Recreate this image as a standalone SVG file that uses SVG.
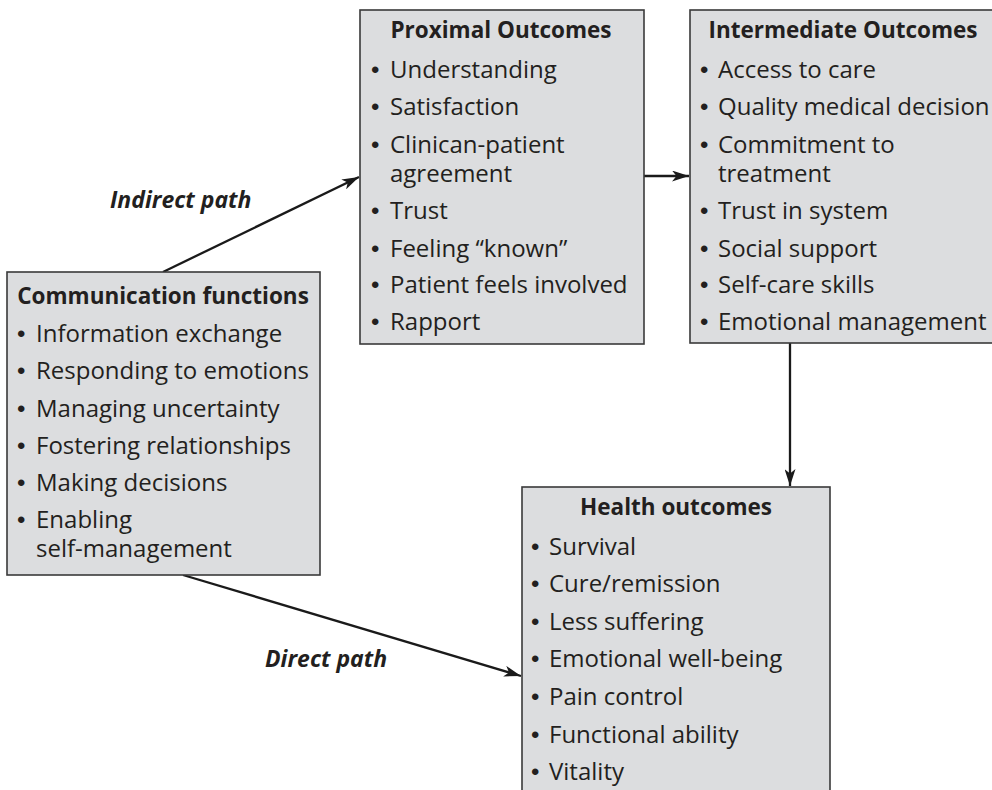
<svg xmlns="http://www.w3.org/2000/svg" width="992" height="790" viewBox="0 0 992 790">
<defs>
<style>
.box{fill:#dcdddf;stroke:#3a3a3a;stroke-width:1.6}
.t{font-family:"Open Sans","Noto Sans","DejaVu Sans",sans-serif;font-size:24px;fill:#231f20}
.h{font-weight:bold;text-anchor:middle;font-size:22.5px}
.b{font-family:"Liberation Sans","Arial",sans-serif;font-size:24px}
.lbl{font-family:"Open Sans","Noto Sans","DejaVu Sans",sans-serif;font-size:23px;font-weight:bold;font-style:italic;fill:#231f20}
.c{stroke:#1a1a1a;stroke-width:2.3;fill:none;marker-end:url(#ah)}
</style>
<marker id="ah" viewBox="0 0 17 11" refX="17" refY="5.5" markerWidth="17" markerHeight="11" markerUnits="userSpaceOnUse" orient="auto">
<path d="M0,0 L17,5.5 L0,11 L4.5,5.5 Z" fill="#1a1a1a"/>
</marker>
</defs>
<rect width="992" height="790" fill="#ffffff"/>
<g id="connectors">
<line class="c" x1="163" y1="272" x2="359" y2="177"/>
<line class="c" x1="183" y1="575" x2="521" y2="676"/>
<line class="c" x1="644" y1="176" x2="689" y2="176"/>
<line class="c" x1="790" y1="343" x2="790" y2="486"/>
<text class="lbl" x="110" y="208">Indirect path</text>
<text class="lbl" x="265" y="667">Direct path</text>
</g>
<g id="communication">
<rect class="box" x="7" y="272" width="313" height="303"/>
<text class="t h" x="163" y="304">Communication functions</text>
<text class="t" x="17" y="342"><tspan class="b">•</tspan><tspan x="36">Information exchange</tspan></text>
<text class="t" x="17" y="379"><tspan class="b">•</tspan><tspan x="36">Responding to emotions</tspan></text>
<text class="t" x="17" y="417"><tspan class="b">•</tspan><tspan x="36">Managing uncertainty</tspan></text>
<text class="t" x="17" y="454"><tspan class="b">•</tspan><tspan x="36">Fostering relationships</tspan></text>
<text class="t" x="17" y="491"><tspan class="b">•</tspan><tspan x="36">Making decisions</tspan></text>
<text class="t" x="17" y="528"><tspan class="b">•</tspan><tspan x="36">Enabling</tspan><tspan x="36" y="557">self-management</tspan></text>
</g>
<g id="proximal">
<rect class="box" x="360" y="10" width="284" height="334"/>
<text class="t h" x="501" y="38">Proximal Outcomes</text>
<text class="t" x="371" y="78"><tspan class="b">•</tspan><tspan x="390">Understanding</tspan></text>
<text class="t" x="371" y="115"><tspan class="b">•</tspan><tspan x="390">Satisfaction</tspan></text>
<text class="t" x="371" y="153"><tspan class="b">•</tspan><tspan x="390">Clinican-patient</tspan><tspan x="390" y="182">agreement</tspan></text>
<text class="t" x="371" y="219"><tspan class="b">•</tspan><tspan x="390">Trust</tspan></text>
<text class="t" x="371" y="257"><tspan class="b">•</tspan><tspan x="390">Feeling “known”</tspan></text>
<text class="t" x="371" y="293"><tspan class="b">•</tspan><tspan x="390">Patient feels involved</tspan></text>
<text class="t" x="371" y="330"><tspan class="b">•</tspan><tspan x="390">Rapport</tspan></text>
</g>
<g id="intermediate">
<rect class="box" x="690" y="10" width="308" height="333"/>
<text class="t h" x="843" y="38">Intermediate Outcomes</text>
<text class="t" x="700" y="78"><tspan class="b">•</tspan><tspan x="718">Access to care</tspan></text>
<text class="t" x="700" y="115"><tspan class="b">•</tspan><tspan x="718">Quality medical decision</tspan></text>
<text class="t" x="700" y="153"><tspan class="b">•</tspan><tspan x="718">Commitment to</tspan><tspan x="718" y="182">treatment</tspan></text>
<text class="t" x="700" y="219"><tspan class="b">•</tspan><tspan x="718">Trust in system</tspan></text>
<text class="t" x="700" y="257"><tspan class="b">•</tspan><tspan x="718">Social support</tspan></text>
<text class="t" x="700" y="293"><tspan class="b">•</tspan><tspan x="718">Self-care skills</tspan></text>
<text class="t" x="700" y="330"><tspan class="b">•</tspan><tspan x="718">Emotional management</tspan></text>
</g>
<g id="health">
<rect class="box" x="522" y="487" width="308" height="320"/>
<text class="t h" x="676" y="515">Health outcomes</text>
<text class="t" x="531" y="555"><tspan class="b">•</tspan><tspan x="549">Survival</tspan></text>
<text class="t" x="531" y="592"><tspan class="b">•</tspan><tspan x="549">Cure/remission</tspan></text>
<text class="t" x="531" y="630"><tspan class="b">•</tspan><tspan x="549">Less suffering</tspan></text>
<text class="t" x="531" y="667"><tspan class="b">•</tspan><tspan x="549">Emotional well-being</tspan></text>
<text class="t" x="531" y="705"><tspan class="b">•</tspan><tspan x="549">Pain control</tspan></text>
<text class="t" x="531" y="743"><tspan class="b">•</tspan><tspan x="549">Functional ability</tspan></text>
<text class="t" x="531" y="780"><tspan class="b">•</tspan><tspan x="549">Vitality</tspan></text>
</g>
</svg>
